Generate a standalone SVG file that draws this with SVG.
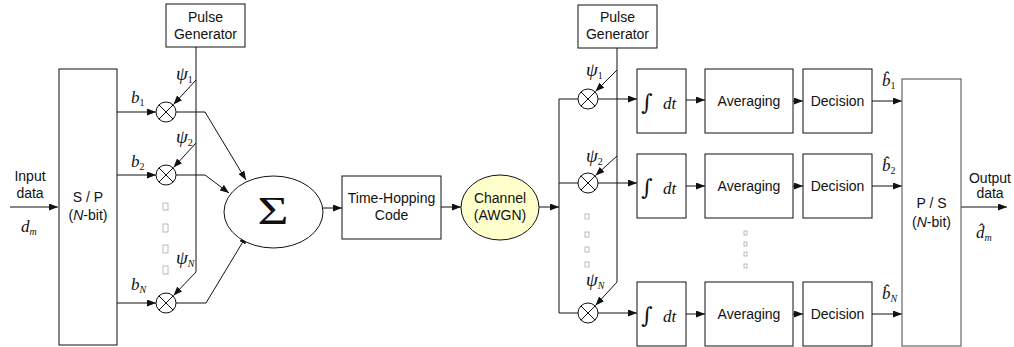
<svg xmlns="http://www.w3.org/2000/svg" width="1014" height="347" viewBox="0 0 1014 347">
<style>
.b{fill:#fff;stroke:#111;stroke-width:1}
.g{fill:#fff;stroke:#666;stroke-width:1.2}
.w{fill:none;stroke:#111;stroke-width:1}
.t{font-family:"Liberation Sans",Arial,sans-serif;font-size:14px;text-anchor:middle;fill:#111}
.m{font-family:"Liberation Serif","Times New Roman",serif;font-style:italic;font-size:17px;fill:#111}
.p{font-family:"Liberation Serif","Times New Roman",serif;font-style:italic;font-size:19px;fill:#111}
.int{font-family:"DejaVu Serif",serif;font-size:22px;fill:#111}
.sub{font-size:10px;font-style:normal}
.subi{font-size:10px;font-style:italic}
.tofu{fill:none;stroke:#aaa;stroke-width:0.8}
</style>
<defs>
<marker id="ah" markerUnits="userSpaceOnUse" markerWidth="9" markerHeight="7" refX="9" refY="3.5" orient="auto">
<path d="M0,0 L9,3.5 L0,7 z" fill="#111"/>
</marker>
<g id="mix"><circle r="10" fill="#fff" stroke="#111" stroke-width="1"/><path d="M-7.1,-7.1 L7.1,7.1 M-7.1,7.1 L7.1,-7.1" stroke="#111" stroke-width="1"/></g>
</defs>

<g id="connectors">
<path class="w" d="M10,207 H58" marker-end="url(#ah)"/>
<path class="w" d="M117,112 H156" marker-end="url(#ah)"/>
<path class="w" d="M117,175 H156" marker-end="url(#ah)"/>
<path class="w" d="M117,303 H156" marker-end="url(#ah)"/>
<path class="w" d="M196,47 V272"/>
<path class="w" d="M196,80 L173.5,104.5" marker-end="url(#ah)"/>
<path class="w" d="M196,143 L173.5,167.5" marker-end="url(#ah)"/>
<path class="w" d="M196,272 L173.5,295.5" marker-end="url(#ah)"/>
<path class="w" d="M176,112 H205 L246,180" marker-end="url(#ah)"/>
<path class="w" d="M176,175 H205 L229,193" marker-end="url(#ah)"/>
<path class="w" d="M176,303 H206 L247,235" marker-end="url(#ah)"/>
<path class="w" d="M323,208 H342" marker-end="url(#ah)"/>
<path class="w" d="M441,207 H461" marker-end="url(#ah)"/>
<path class="w" d="M539,207 H559" marker-end="url(#ah)"/>
<path class="w" d="M578,99 H559 V313 H578 M559,183 H578"/>
<path class="w" d="M617,48 V282"/>
<path class="w" d="M617,70 L595.5,91.5" marker-end="url(#ah)"/>
<path class="w" d="M617,156 L595.5,175.5" marker-end="url(#ah)"/>
<path class="w" d="M617,282 L595.5,305.5" marker-end="url(#ah)"/>
<path class="w" d="M598,99 H637" marker-end="url(#ah)"/>
<path class="w" d="M598,183 H637" marker-end="url(#ah)"/>
<path class="w" d="M598,313 H637" marker-end="url(#ah)"/>
<path class="w" d="M686,100 H705" marker-end="url(#ah)"/>
<path class="w" d="M686,186 H705" marker-end="url(#ah)"/>
<path class="w" d="M686,314 H705" marker-end="url(#ah)"/>
<path class="w" d="M793,101 H803" marker-end="url(#ah)"/>
<path class="w" d="M793,186 H803" marker-end="url(#ah)"/>
<path class="w" d="M793,314 H803" marker-end="url(#ah)"/>
<path class="w" d="M872,101 H902" marker-end="url(#ah)"/>
<path class="w" d="M872,186 H902" marker-end="url(#ah)"/>
<path class="w" d="M872,314 H902" marker-end="url(#ah)"/>
<path class="w" d="M961,207 H1007" marker-end="url(#ah)"/>
</g>

<g id="input-label">
<text class="t" x="30" y="181">Input</text>
<text class="t" x="30" y="198">data</text>
<text class="m" x="21" y="232">d<tspan class="subi" dy="3">m</tspan></text>
</g>

<g id="sp">
<rect class="b" x="59" y="69" width="58" height="276"/>
<text class="t" x="88" y="202">S / P</text>
<text class="t" x="88" y="220">(<tspan font-style="italic">N</tspan>-bit)</text>
</g>

<g id="pg-tx">
<rect class="b" x="166" y="4" width="79" height="43"/>
<text class="t" x="205.5" y="22">Pulse</text>
<text class="t" x="205.5" y="39">Generator</text>
</g>

<g id="mixers-tx">
<use href="#mix" x="166" y="112"/>
<use href="#mix" x="166" y="175"/>
<use href="#mix" x="166" y="303"/>
<text class="m" x="131" y="103">b<tspan class="sub" dy="3">1</tspan></text>
<text class="m" x="131" y="167">b<tspan class="sub" dy="3">2</tspan></text>
<text class="m" x="131" y="290">b<tspan class="subi" dy="3">N</tspan></text>
<text class="p" x="176" y="80">ψ<tspan class="sub" dy="3">1</tspan></text>
<text class="p" x="176" y="143">ψ<tspan class="sub" dy="3">2</tspan></text>
<text class="p" x="176" y="264">ψ<tspan class="subi" dy="3">N</tspan></text>
<rect class="tofu" x="163" y="203" width="5" height="7"/>
<rect class="tofu" x="163" y="224" width="5" height="8"/>
<rect class="tofu" x="163" y="245" width="5" height="8"/>
<rect class="tofu" x="163" y="266" width="5" height="8"/>
</g>

<g id="sum">
<ellipse class="b" cx="273.5" cy="212" rx="49.5" ry="36"/>
<text x="273" y="224" font-family="'Liberation Serif','Times New Roman',serif" font-size="40" text-anchor="middle" textLength="31" lengthAdjust="spacingAndGlyphs" fill="#111">Σ</text>
</g>

<g id="th">
<rect class="b" x="342" y="176" width="99" height="63"/>
<text class="t" x="391.5" y="203">Time-Hopping</text>
<text class="t" x="391.5" y="220">Code</text>
</g>

<g id="channel">
<ellipse cx="500" cy="207.5" rx="39" ry="32.5" fill="#ffffcc" stroke="#111" stroke-width="1"/>
<text class="t" x="500" y="203">Channel</text>
<text class="t" x="500" y="220">(AWGN)</text>
</g>

<g id="pg-rx">
<rect class="b" x="578" y="5" width="79" height="43"/>
<text class="t" x="617.5" y="22">Pulse</text>
<text class="t" x="617.5" y="39">Generator</text>
</g>

<g id="mixers-rx">
<use href="#mix" x="588" y="99"/>
<use href="#mix" x="588" y="183"/>
<use href="#mix" x="588" y="313"/>
<text class="p" x="586" y="76">ψ<tspan class="sub" dy="3">1</tspan></text>
<text class="p" x="586" y="162">ψ<tspan class="sub" dy="3">2</tspan></text>
<text class="p" x="586" y="286">ψ<tspan class="subi" dy="3">N</tspan></text>
<rect class="tofu" x="585" y="214" width="4" height="5"/>
<rect class="tofu" x="585" y="232" width="4" height="5"/>
<rect class="tofu" x="585" y="247" width="4" height="5"/>
<rect class="tofu" x="585" y="262" width="4" height="5"/>
</g>

<g id="int1"><rect class="b" x="637" y="69" width="49" height="64"/><text class="int" x="641" y="110">∫</text><text class="m" x="663" y="109" font-size="19">dt</text></g>
<g id="int2"><rect class="b" x="637" y="154" width="49" height="64"/><text class="int" x="641" y="195">∫</text><text class="m" x="663" y="194" font-size="19">dt</text></g>
<g id="int3"><rect class="b" x="637" y="282" width="49" height="64"/><text class="int" x="641" y="323">∫</text><text class="m" x="663" y="322" font-size="19">dt</text></g>

<g id="avg1"><rect class="b" x="705" y="69" width="88" height="64"/><text class="t" x="749" y="106">Averaging</text></g>
<g id="avg2"><rect class="b" x="705" y="154" width="88" height="64"/><text class="t" x="749" y="191">Averaging</text></g>
<g id="avg3"><rect class="b" x="705" y="282" width="88" height="64"/><text class="t" x="749" y="319">Averaging</text></g>

<g id="dots-rx">
<rect class="tofu" x="744" y="231" width="3" height="4"/>
<rect class="tofu" x="744" y="242" width="3" height="4"/>
<rect class="tofu" x="744" y="252" width="3" height="4"/>
<rect class="tofu" x="744" y="264" width="3" height="4"/>
</g>

<g id="dec1"><rect class="b" x="803" y="69" width="69" height="64"/><text class="t" x="837.5" y="106">Decision</text></g>
<g id="dec2"><rect class="b" x="803" y="154" width="69" height="64"/><text class="t" x="837.5" y="191">Decision</text></g>
<g id="dec3"><rect class="b" x="803" y="282" width="69" height="64"/><text class="t" x="837.5" y="319">Decision</text></g>

<g id="bhat">
<text class="m" x="882" y="86">b̂<tspan class="sub" dy="3">1</tspan></text>
<text class="m" x="882" y="171">b̂<tspan class="sub" dy="3">2</tspan></text>
<text class="m" x="882" y="299">b̂<tspan class="subi" dy="3">N</tspan></text>
</g>

<g id="ps">
<rect class="g" x="902" y="79" width="59" height="267"/>
<text class="t" x="931.5" y="208">P / S</text>
<text class="t" x="931.5" y="227">(<tspan font-style="italic">N</tspan>-bit)</text>
</g>

<g id="output-label">
<text class="t" x="990" y="183">Output</text>
<text class="t" x="990" y="198">data</text>
<text class="m" x="976" y="238">d̂<tspan class="subi" dy="3">m</tspan></text>
</g>
</svg>
